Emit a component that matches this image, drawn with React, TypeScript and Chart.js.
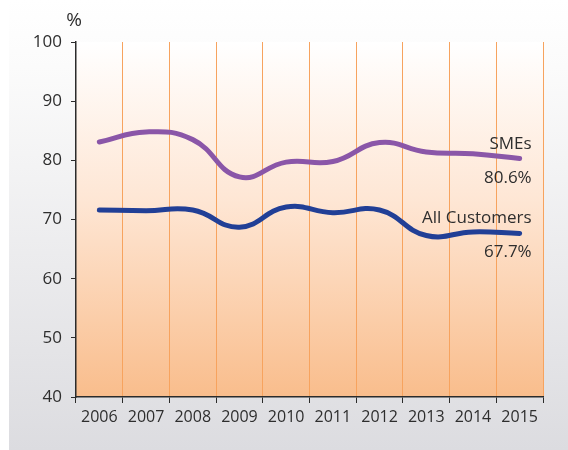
import React, { useEffect, useRef } from "react";
import { Chart, registerables } from "chart.js";

Chart.register(...registerables);

const years = ["2006", "2007", "2008", "2009", "2010", "2011", "2012", "2013", "2014", "2015"];
const smes = [83.1, 84.8, 83.5, 77.2, 79.7, 79.8, 83.0, 81.4, 81.1, 80.3];
const allCustomers = [71.6, 71.5, 71.6, 68.7, 72.1, 71.15, 71.6, 67.3, 67.9, 67.65];
const seriesNames = ["SMEs", "All Customers"];
const endLabels = ["80.6%", "67.7%"];
const yTicks = [40, 50, 60, 70, 80, 90, 100];
const yUnit = "%";

const FONT = "'Open Sans', 'Noto Sans', sans-serif";
const TEXT = "#2e2e2e";

const backgroundPlugin = {
  id: "bgPlugin",
  beforeDraw(chart: any) {
    const { ctx, width, height, chartArea } = chart;
    ctx.save();
    const g = ctx.createLinearGradient(0, 0, 0, height);
    g.addColorStop(0, "#ffffff");
    g.addColorStop(0.15, "#fbfbfb");
    g.addColorStop(1, "#dcdce0");
    ctx.fillStyle = g;
    ctx.fillRect(9, 0, width - 9, height);
    const pg = ctx.createLinearGradient(0, chartArea.top, 0, chartArea.bottom);
    pg.addColorStop(0, "#ffffff");
    pg.addColorStop(0.45, "#fee6d4");
    pg.addColorStop(1, "#f9bd8c");
    ctx.fillStyle = pg;
    ctx.fillRect(chartArea.left, chartArea.top, chartArea.right - chartArea.left, chartArea.bottom - chartArea.top);
    ctx.restore();
  },
  afterDatasetsDraw(chart: any) {
    const { ctx } = chart;
    ctx.save();
    ctx.fillStyle = TEXT;
    ctx.font = `17px ${FONT}`;
    ctx.textAlign = "right";
    ctx.textBaseline = "alphabetic";
    chart.data.datasets.forEach((ds: any, i: number) => {
      const meta = chart.getDatasetMeta(i);
      const pt = meta.data[meta.data.length - 1];
      const xr = pt.x + 12;
      ctx.fillText(seriesNames[i], xr, pt.y - 10);
      ctx.fillText(endLabels[i], xr, pt.y + 24);
    });
    const ys = chart.scales.y;
    ctx.textAlign = "center";
    ctx.font = `19px ${FONT}`;
    ctx.fillText(yUnit, ys.right - 2, ys.top - 16);
    ctx.restore();
  },
};

export default function App() {
  const ref = useRef<HTMLCanvasElement | null>(null);
  useEffect(() => {
    if (!ref.current) return;
    const chart = new Chart(ref.current, {
      type: "line",
      data: {
        labels: years,
        datasets: [
          {
            label: seriesNames[0],
            data: smes,
            borderColor: "#8a56a8",
            borderWidth: 5,
            borderCapStyle: "round",
            pointRadius: 0,
            tension: 0.45,
            fill: false,
          },
          {
            label: seriesNames[1],
            data: allCustomers,
            borderColor: "#213f96",
            borderWidth: 5,
            borderCapStyle: "round",
            pointRadius: 0,
            tension: 0.45,
            fill: false,
          },
        ],
      },
      options: {
        responsive: false,
        animation: false,
        devicePixelRatio: 1,
        layout: { padding: { top: 42, right: 25, left: 0, bottom: 0 } },
        plugins: { legend: { display: false }, tooltip: { enabled: false } },
        scales: {
          x: {
            offset: true,
            grid: {
              offset: true,
              color: "#f7a35e",
              lineWidth: 1,
              tickColor: "#2b2b2b",
              tickLength: 6,
              drawOnChartArea: true,
            },
            border: { color: "#2b2b2b", width: 1.5 },
            ticks: { color: TEXT, font: { size: 16, family: FONT }, padding: 5, maxRotation: 0 },
            afterFit(scale: any) {
              scale.height = 53;
            },
          },
          y: {
            min: 40,
            max: 100,
            afterBuildTicks(scale: any) {
              scale.ticks = yTicks.map((v) => ({ value: v }));
            },
            grid: {
              drawOnChartArea: false,
              tickColor: "#2b2b2b",
              tickLength: 5,
            },
            border: { color: "#2b2b2b", width: 1.5 },
            ticks: { color: TEXT, font: { size: 17, family: FONT }, padding: 9 },
            afterFit(scale: any) {
              scale.width = 76;
            },
          },
        },
      },
      plugins: [backgroundPlugin],
    } as any);
    return () => chart.destroy();
  }, []);
  return (
    <div style={{ position: "absolute", left: 0, top: 0, width: 568, height: 450 }}>
      <canvas ref={ref} width={568} height={450} style={{ width: 568, height: 450, display: "block" }} />
    </div>
  );
}
